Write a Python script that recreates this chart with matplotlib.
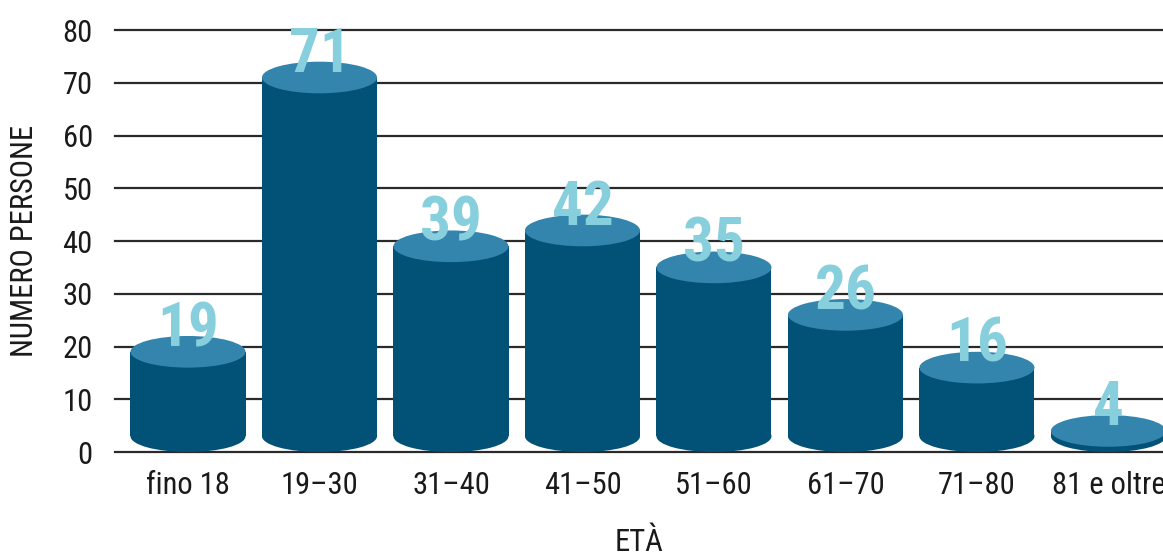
import matplotlib
matplotlib.use("Agg")
import matplotlib.pyplot as plt
from matplotlib.patches import Ellipse, Rectangle

categories = ["fino 18", "19–30", "31–40", "41–50", "51–60", "61–70", "71–80", "81 e oltre"]
values = [19, 71, 39, 42, 35, 26, 16, 4]
yticks = [0, 10, 20, 30, 40, 50, 60, 70, 80]

BODY = "#025176"
TOP = "#3385AE"
LABEL = "#88CFDE"
GRID = "#2a2a2a"
TEXT = "#1a1a1a"

fam = ["Roboto Condensed", "Liberation Sans", "DejaVu Sans"]
plt.rcParams["font.family"] = fam

fig = plt.figure(figsize=(11.63, 5.56), dpi=100)
ax = fig.add_axes([0.0989, 0.187, 0.9011, 0.759])
ax.set_xlim(-0.555, 7.415)
ax.set_ylim(0, 80)

for y in yticks:
    ax.axhline(y, color=GRID, lw=1.6, zorder=1, clip_on=False)

w = 0.875
eh = 6.0
base = 3.0
for i, v in enumerate(values):
    ax.add_patch(Rectangle((i - w / 2, base), w, v - base, facecolor=BODY, edgecolor="none", zorder=2))
    ax.add_patch(Ellipse((i, base), w, eh, facecolor=BODY, edgecolor="none", zorder=2))
    ax.add_patch(Ellipse((i, v), w, eh, facecolor=TOP, edgecolor="none", zorder=3))
    ax.text(i, v + 4.3, str(v), ha="center", va="center", color=LABEL,
            fontsize=44, fontweight="bold", zorder=4, family=fam)

ax.set_yticks(yticks)
ax.set_yticklabels([str(t) for t in yticks], fontsize=22, color=TEXT)
ax.set_xticks(range(len(categories)))
ax.set_xticklabels(categories, fontsize=22, color=TEXT)
ax.tick_params(axis="both", length=0)
ax.tick_params(axis="y", pad=16)
ax.tick_params(axis="x", pad=14)
for s in ax.spines.values():
    s.set_visible(False)

ax.set_ylabel("NUMERO PERSONE", fontsize=22, color=TEXT)
ax.yaxis.set_label_coords(-0.073, 0.5)
ax.set_xlabel("ETÀ", fontsize=22, color=TEXT, labelpad=20)

fig.savefig("out.png", dpi=100)
